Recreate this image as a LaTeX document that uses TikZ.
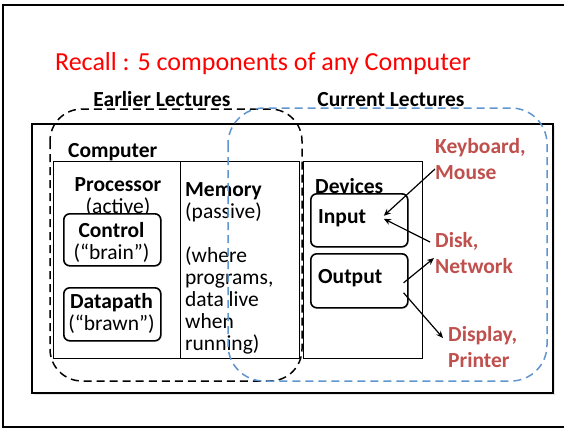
\documentclass[tikz,border=0pt]{standalone}
\usepackage{fontspec}
\setmainfont{Carlito}
\usepackage{xcolor}
\usetikzlibrary{arrows.meta,shadows}
\definecolor{titlered}{RGB}{255,0,0}
\definecolor{iored}{RGB}{192,80,77}
\definecolor{nowblue}{RGB}{96,150,208}
\begin{document}
\begin{tikzpicture}[x=1pt,y=-1pt,
        box/.style={draw,line width=1.2pt,fill=white,inner sep=0pt,anchor=north west},
        rbox/.style={draw,line width=1.6pt,rounded corners=6pt,fill=white,inner sep=0pt,anchor=north west,
            drop shadow={shadow xshift=1pt,shadow yshift=-1pt,opacity=0.2}},
        head/.style={font=\fontsize{21.5}{22}\selectfont\bfseries,inner sep=0pt},
        body/.style={font=\fontsize{21.5}{22}\selectfont,inner sep=0pt,align=center},
        memo/.style={font=\fontsize{21.5}{22}\selectfont,inner sep=0pt,align=left},
        io/.style={font=\fontsize{21.5}{26}\selectfont\bfseries,text=iored,inner sep=0pt,align=left},
        span/.style={line width=1.5pt,dash pattern=on 8pt off 5pt,rounded corners=32pt},
        link/.style={line width=1.2pt,-{Stealth[length=7pt,width=6pt]}}]
    \useasboundingbox (0,0) rectangle (564,429);
    \draw[line width=1.5pt] (570,5) -- (3,5) -- (3,427) -- (570,427);
    \node[text=titlered,font=\fontsize{26}{30}\selectfont,inner sep=0pt,anchor=base] (title) at (263,70) {Recall : 5 components of any Computer};
    \node[box,line width=1.8pt,minimum width=521,minimum height=269,
        drop shadow={shadow xshift=2pt,shadow yshift=-2pt,opacity=0.2}] (computer) at (31,123) {};
    \node[box,minimum width=127,minimum height=197] (proc) at (53,161) {};
    \node[box,minimum width=119,minimum height=197] (mem) at (180,161) {};
    \node[box,minimum width=119,minimum height=197] (devs) at (303,161) {};
    \node[head,anchor=base west] (complbl) at (68,157) {Computer};
    \node[body,anchor=base] (proclbl) at (118,213) {\textbf{Processor}\\(active)};
    \node[memo,anchor=base west] (memlbl) at (185,350) {\textbf{Memory}\\(passive)\\[22pt](where\\programs,\\data live\\when\\running)};
    \node[head,anchor=base west] (devlbl) at (315,193) {Devices};
    \node[rbox,minimum width=97,minimum height=52] (ctrl) at (63,213) {};
    \node[body,anchor=base] (ctrllbl) at (111.5,259) {\textbf{Control}\\(“brain”)};
    \node[rbox,minimum width=97,minimum height=53] (dpath) at (63,287) {};
    \node[body,anchor=base] (dpathlbl) at (111.5,330) {\textbf{Datapath}\\(“brawn”)};
    \node[rbox,minimum width=97,minimum height=53] (inbox) at (310,193) {};
    \node[head,anchor=base west] (inlbl) at (318,223) {Input};
    \node[rbox,minimum width=97,minimum height=54] (outbox) at (310,253) {};
    \node[head,anchor=base west] (outlbl) at (318,283) {Output};
    \draw[span] (50,109) rectangle (302,381);
    \draw[span,nowblue,rounded corners=36pt] (228,108) rectangle (547,381);
    \node[head,anchor=base] (earlier) at (162,106) {Earlier Lectures};
    \node[head,anchor=base] (current) at (391,106) {Current Lectures};
    \node[io,anchor=base west] (kbd) at (435,179) {Keyboard,\\Mouse};
    \node[io,anchor=base west] (disk) at (435,273) {Disk,\\Network};
    \node[io,anchor=base west] (disp) at (448,367) {Display,\\Printer};
    \draw[link] ([yshift=10pt]kbd.base west) -- ([xshift=24.5pt,yshift=4.5pt]inbox.center);
    \draw[link] ([xshift=-5pt,yshift=31pt]disk.base west) -- ([xshift=24.5pt,yshift=1.5pt]inbox.center);
    \draw[link] ([xshift=-5pt,yshift=-2pt]outbox.east) -- ([xshift=-1pt,yshift=15pt]disk.base west);
    \draw[link] ([xshift=-5pt,yshift=-12pt]outbox.east) -- ([xshift=-5pt,yshift=29pt]disp.base west);
\end{tikzpicture}
\end{document}
